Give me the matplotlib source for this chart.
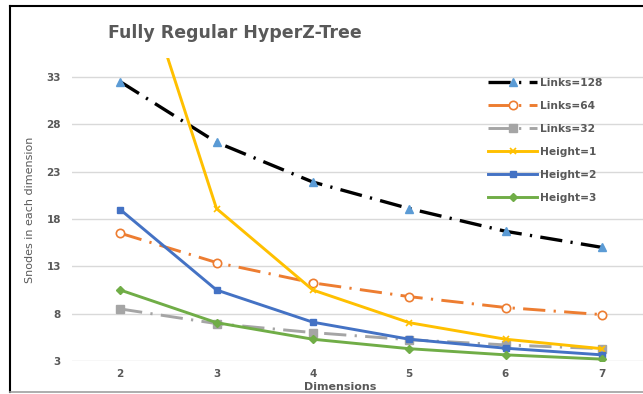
import matplotlib
matplotlib.use("Agg")
import matplotlib.pyplot as plt
from matplotlib.lines import Line2D

plt.rcParams['font.family'] = ['DejaVu Sans']
plt.rcParams['lines.scale_dashes'] = False

dims = [2, 3, 4, 5, 6, 7]
links128 = [32.5, 26.1, 21.9, 19.1, 16.7, 15.0]
links64 = [16.5, 13.4, 11.25, 9.8, 8.65, 7.9]
links32 = [8.5, 6.95, 6.0, 5.25, 4.7, 4.3]
height1 = [50.5, 19.1, 10.5, 7.05, 5.3, 4.3]
height2 = [19.0, 10.5, 7.1, 5.3, 4.35, 3.65]
height3 = [10.5, 7.05, 5.3, 4.3, 3.65, 3.2]
yticks = [3, 8, 13, 18, 23, 28, 33]

W, H = 643, 394
fig = plt.figure(figsize=(W / 100, H / 100), dpi=100)

def px(x0, y0, x1, y1):
    return [x0 / W, 1 - y1 / H, (x1 - x0) / W, (y1 - y0) / H]

ax = fig.add_axes(px(72, 58, 650, 361))
ax.set_xlim(1.5, 7.5)
ax.set_ylim(3, 35)

grey_txt = '#595959'
dd = (0, (16, 6, 1.6, 6))

ax.plot(dims, links128, color='black', lw=2.4, linestyle=dd, marker='^', ms=6,
        mfc='#5B9BD5', mec='#5B9BD5', label='Links=128', zorder=5)
ax.plot(dims, links64, color='#ED7D31', lw=2.1, linestyle=dd, marker='o', ms=6,
        mfc='white', mec='#ED7D31', mew=1.2, label='Links=64', zorder=4)
ax.plot(dims, links32, color='#A5A5A5', lw=2.1, linestyle=dd, marker='s', ms=6,
        mfc='#A5A5A5', mec='#A5A5A5', label='Links=32', zorder=3)
ax.plot(dims, height1, color='#FFC000', lw=2.1, linestyle='-', marker='x', ms=5,
        mec='#FFC000', mew=1.2, label='Height=1', zorder=6)
ax.plot(dims, height2, color='#4472C4', lw=2.1, linestyle='-', marker='s', ms=4,
        mfc='#4472C4', mec='#4472C4', label='Height=2', zorder=6)
ax.plot(dims, height3, color='#70AD47', lw=2.1, linestyle='-', marker='D', ms=4,
        mfc='#70AD47', mec='#70AD47', label='Height=3', zorder=6)

ax.set_yticks(yticks)
ax.set_xticks(dims)
ax.grid(axis='y', color='#D9D9D9', lw=1.0)
ax.set_axisbelow(True)
for s in ax.spines.values():
    s.set_visible(False)
ax.tick_params(axis='y', length=0, labelsize=7.5, labelcolor=grey_txt, pad=8)
ax.tick_params(axis='x', length=0, labelsize=7.5, labelcolor=grey_txt, pad=6)
for lab in ax.get_xticklabels() + ax.get_yticklabels():
    lab.set_fontweight('bold')

fig.text(30 / W, 1 - 210 / H, 'Snodes in each dimension', rotation=90,
         ha='center', va='center', fontsize=8, color=grey_txt)
fig.text(340 / W, 1 - 387 / H, 'Dimensions', ha='center', va='center',
         fontsize=8, fontweight='bold', color=grey_txt)
fig.text(108 / W, 1 - 33 / H, 'Fully Regular HyperZ-Tree', ha='left', va='center',
         fontsize=12.5, fontweight='bold', color=grey_txt)

leg = ax.legend(loc='upper left', bbox_to_anchor=(488 / W, 1 - 78 / H),
                bbox_transform=fig.transFigure, frameon=False, fontsize=7.7,
                handlelength=4.6, labelspacing=1.22, handletextpad=0.3,
                borderaxespad=0, borderpad=0)
for t in leg.get_texts():
    t.set_color(grey_txt)
    t.set_fontweight('bold')

# outer frame
fig.add_artist(Line2D([10 / W, 10 / W], [1 - 6 / H, 1 - 392 / H], color='black',
                      lw=1.5, transform=fig.transFigure))
fig.add_artist(Line2D([10 / W, 1], [1 - 6 / H, 1 - 6 / H], color='black',
                      lw=1.5, transform=fig.transFigure))
fig.add_artist(Line2D([10 / W, 1], [1 - 392 / H, 1 - 392 / H], color='#A0A0A0',
                      lw=1.2, transform=fig.transFigure))

fig.savefig('out.png', dpi=100)
